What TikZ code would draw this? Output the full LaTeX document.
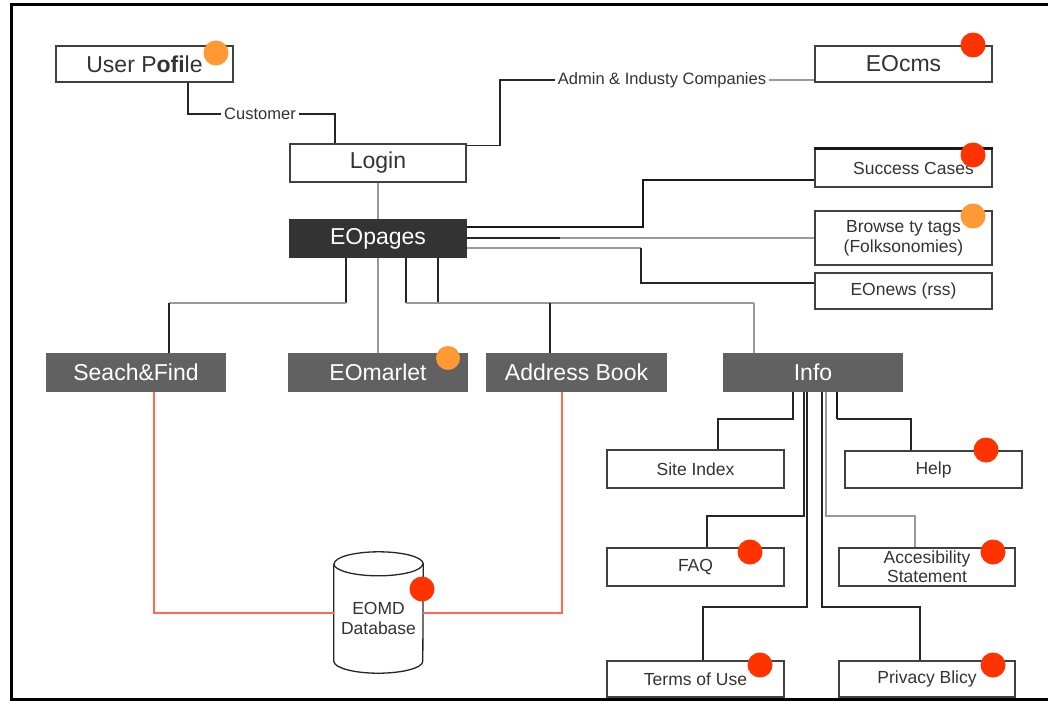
\documentclass[tikz,border=0pt]{standalone}
\usepackage{fontspec}
\setmainfont{Liberation Sans}
\definecolor{dotred}{HTML}{FF3300}
\definecolor{dotorange}{HTML}{FF9933}
\definecolor{linkred}{HTML}{FF6A50}
\tikzset{
  box/.style={draw=black!75, line width=1.3pt, fill=white, inner sep=0pt, text=black!80, align=center},
  bigtxt/.style={font=\fontsize{23}{26}\selectfont},
  smalltxt/.style={font=\fontsize{17.5}{20}\selectfont},
  lbl/.style={font=\fontsize{16.5}{19}\selectfont, text=black!80, inner sep=3pt, fill=white},
  darkbox/.style={box, fill=black!80, draw=black!80, text=white},
  greybox/.style={box, fill=black!62, draw=black!62, text=white},
  dk/.style={draw=black!85, line width=1.3pt},
  lt/.style={draw=black!40, line width=1.3pt},
  thick dk/.style={draw=black!90, line width=2pt},
  rd/.style={draw=linkred, line width=1.2pt},
  reddot/.style={fill=dotred},
  orangedot/.style={fill=dotorange},
}
\begin{document}
\begin{tikzpicture}[x=1pt,y=-1pt]
\useasboundingbox (0,0) rectangle (1048,701);
\fill[white] (0,0) rectangle (1048,701);
% frame
\draw[line width=3pt, black] (1052,5) -- (11,5) -- (11,699) -- (1052,699);

% nodes
\node[box, bigtxt, minimum width=177, minimum height=36] (userp) at (144.5,64) {User P\textbf{ofi}le};
\node[box, bigtxt, minimum width=177, minimum height=36] (eocms) at (903.5,64) {EOcms};
\node[box, bigtxt, minimum width=176, minimum height=38] (login) at (378,163) {Login};
\node[darkbox, bigtxt, minimum width=176, minimum height=37] (eopages) at (378,238.5) {EOpages};
\node[box, smalltxt, minimum width=177, minimum height=38] (success) at (903.5,168) {\hspace*{20pt}Success Cases};
\draw[thick dk, line width=2.5pt] (success.north west) -- (success.north east);
\node[box, smalltxt, minimum width=177, minimum height=54] (browse) at (903.5,238) {Browse ty tags\\(Folksonomies)};
\node[box, smalltxt, minimum width=177, minimum height=36] (eonews) at (903.5,291) {EOnews (rss)};

\node[greybox, bigtxt, minimum width=178, minimum height=37] (search) at (136,372.5) {Seach\&Find};
\node[greybox, bigtxt, minimum width=178, minimum height=37] (market) at (378,372.5) {EOmarlet};
\node[greybox, bigtxt, minimum width=179, minimum height=37] (address) at (576.5,372.5) {Address Book};
\node[greybox, bigtxt, minimum width=178, minimum height=37] (info) at (813,372.5) {Info};

\node[box, smalltxt, minimum width=177, minimum height=38] (siteidx) at (695.5,469) {Site Index};
\node[box, smalltxt, minimum width=177, minimum height=37] (help) at (933.5,469.5) {Help};
\node[box, smalltxt, minimum width=177, minimum height=38] (faq) at (695.5,567) {FAQ};
\node[box, smalltxt, minimum width=176, minimum height=38, font=\fontsize{17.5}{19}\selectfont] (access) at (927,567) {Accesibility\\Statement};
\node[box, smalltxt, minimum width=177, minimum height=36] (terms) at (695.5,679) {Terms of Use};
\node[box, smalltxt, minimum width=176, minimum height=36] (privacy) at (927,679) {Privacy Blicy};

% database cylinder
\node[inner sep=0pt, minimum width=89, minimum height=121] (db) at (378.5,612.5) {};
\draw[draw=black!85, line width=1.3pt, fill=white]
  ([yshift=-12pt]db.north west) -- ([yshift=12pt]db.south west)
  arc[start angle=180, end angle=360, x radius=44.5pt, y radius=12pt]
  -- ([yshift=-12pt]db.north east)
  arc[start angle=0, end angle=180, x radius=44.5pt, y radius=12pt];
\draw[draw=black!85, line width=1.3pt] ([yshift=-12pt]db.north west)
  arc[start angle=180, end angle=360, x radius=44.5pt, y radius=12pt];
\node[smalltxt, text=black!80, align=center, inner sep=0pt] (dbtext) at (378.5,618) {EOMD\\Database};

% labels
\node[lbl] (cust) at (260,114) {Customer};
\node[lbl] (admin) at (662,80) {Admin \& Industy Companies};

% connectors: top
\draw[dk] (188,0 |- userp.south) |- (cust.west);
\draw[dk] (cust.east) -| (335,0 |- login.north);
\draw[dk] ([yshift=-2pt]login.north east) -| (500,0 |- admin.west) -- (admin.west);
\draw[lt] (admin.east) -- (eocms.west |- admin.east);
\draw[lt] (login.south) -- (eopages.north);
\draw[lt] (eopages.south) -- (market.north);

% EOpages to the right
\coordinate (r1) at (643,227);
\draw[thick dk] (eopages.east |- r1) -- (r1) |- (success.west |- 0,180);
\coordinate (r2) at (560,238);
\draw[dk] (eopages.east |- r2) -- (r2);
\draw[lt] (r2) -- (browse.west |- r2);
\coordinate (r3) at (641,248);
\draw[lt] (eopages.east |- r3) -- (r3);
\draw[dk] (r3) |- (eonews.west |- 0,283);

% EOpages downward
\coordinate (j1) at (346,303);
\coordinate (j2) at (169,303);
\draw[dk] (346,0 |- eopages.south) -- (j1);
\draw[lt] (j1) -- (j2);
\draw[dk] (j2) -- (169,0 |- search.north);
\coordinate (j3) at (406,303);
\coordinate (j4) at (438,303);
\coordinate (j5) at (550,303);
\coordinate (j6) at (754,303);
\draw[dk] (406,0 |- eopages.south) -- (j3);
\draw[dk] (438,0 |- eopages.south) -- (j4);
\draw[lt] (j3) -- (j6);
\draw[dk] (j5) -- (550,0 |- address.north);
\draw[lt] (j6) -- (754,0 |- info.north);

% red database links
\draw[rd] (154,0 |- search.south) |- (db.west |- 0,613);
\draw[rd] (db.east |- 0,613) -| (562,0 |- address.south);

% Info subtree
\draw[dk] (793,0 |- info.south) |- (718,419) -- (718,0 |- siteidx.north);
\draw[dk] (804,0 |- info.south) |- (707,516) -- (707,0 |- faq.north);
\draw[dk] (807,0 |- info.south) |- (703,607) -- (703,0 |- terms.north);
\draw[dk] (822,0 |- info.south) |- (920,607) -- (920,0 |- privacy.north);
\draw[lt] (826,0 |- info.south) |- (915,516) -- (915,0 |- access.north);
\draw[thick dk] (837,0 |- info.south) -- (837,419);
\draw[dk] (837,419) -| (911,0 |- help.north);

% status dots
\fill[orangedot] (216,53) circle[radius=12.5pt];
\fill[reddot] (973,45) circle[radius=12.5pt];
\fill[reddot] (973,155) circle[radius=12.5pt];
\fill[orangedot] (973,216) circle[radius=12.5pt];
\fill[orangedot] (448,358) circle[radius=12pt];
\fill[reddot] (422,589) circle[radius=12.5pt];
\fill[reddot] (986,450) circle[radius=12.5pt];
\fill[reddot] (750,552) circle[radius=12.5pt];
\fill[reddot] (993,552) circle[radius=12.5pt];
\fill[reddot] (760,665) circle[radius=12.5pt];
\fill[reddot] (993,665) circle[radius=12.5pt];
\end{tikzpicture}
\end{document}
